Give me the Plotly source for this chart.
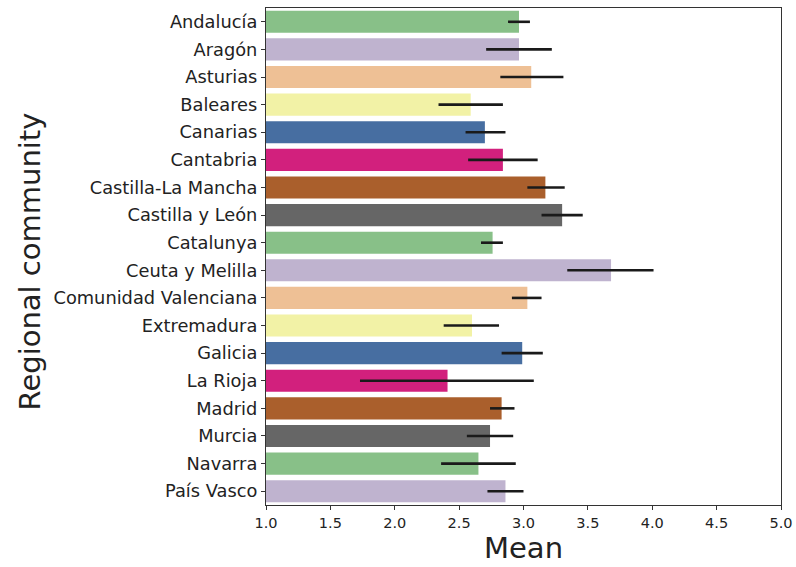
import plotly.graph_objects as go

communities = ["Andalucía", "Aragón", "Asturias", "Baleares", "Canarias", "Cantabria",
               "Castilla-La Mancha", "Castilla y León", "Catalunya", "Ceuta y Melilla",
               "Comunidad Valenciana", "Extremadura", "Galicia", "La Rioja", "Madrid",
               "Murcia", "Navarra", "País Vasco"]
means = [2.965, 2.965, 3.06, 2.59, 2.70, 2.84, 3.17, 3.30, 2.76, 3.68,
         3.03, 2.60, 2.99, 2.41, 2.83, 2.74, 2.65, 2.86]
ci_low = [2.88, 2.71, 2.82, 2.34, 2.55, 2.57, 3.03, 3.14, 2.67, 3.34,
          2.91, 2.38, 2.83, 1.73, 2.74, 2.56, 2.36, 2.72]
ci_high = [3.05, 3.22, 3.31, 2.84, 2.86, 3.11, 3.32, 3.46, 2.84, 4.01,
           3.14, 2.81, 3.15, 3.08, 2.93, 2.92, 2.94, 3.00]
palette = ["#88c088", "#bfb3cf", "#eec095", "#f2f2a6", "#476ea1", "#d2207d", "#aa5f2c", "#666666"]
x_ticks = [1.0, 1.5, 2.0, 2.5, 3.0, 3.5, 4.0, 4.5, 5.0]
x_title = "Mean"
y_title = "Regional community"

colors = [palette[i % len(palette)] for i in range(len(communities))]
plus = [h - m for h, m in zip(ci_high, means)]
minus = [m - l for m, l in zip(means, ci_low)]

fig = go.Figure(go.Bar(
    x=means, y=communities, orientation="h",
    marker=dict(color=colors, line=dict(width=0)),
    width=0.8,
    error_x=dict(type="data", symmetric=False, array=plus, arrayminus=minus,
                 color="#1a1a1a", thickness=2.6, width=0),
))

fig.update_layout(
    width=796, height=567,
    margin=dict(l=266, r=15, t=8, b=62, autoexpand=False),
    plot_bgcolor="white", paper_bgcolor="white",
    font=dict(family="DejaVu Sans", color="#222"),
    showlegend=False,
    xaxis=dict(range=[1, 5], tickvals=x_ticks, ticktext=[f"{v:.1f}" for v in x_ticks],
               tickfont=dict(size=14.5, color="#222"), ticks="outside", ticklen=4, tickcolor="#333",
               showline=True, linecolor="#333", linewidth=1.2, mirror=True,
               showgrid=False, zeroline=False, automargin=False),
    yaxis=dict(autorange=False, range=[17.5, -0.5], tickfont=dict(size=17.8, color="#222"),
               ticks="outside", ticklen=4, automargin=False,
               tickcolor="#333", showline=True, linecolor="#333", linewidth=1.2, mirror=True,
               showgrid=False),
    annotations=[
        dict(text=x_title, xref="paper", yref="paper", x=0.5, y=0, xanchor="center",
             yanchor="middle", yshift=-43, showarrow=False,
             font=dict(size=29, color="#222")),
        dict(text=y_title, xref="paper", yref="paper", x=0, y=0.49, xanchor="center",
             yanchor="middle", xshift=-236, textangle=-90, showarrow=False,
             font=dict(size=29, color="#222")),
    ],
)

fig.write_html("out.html", config={"displayModeBar": False},
               post_script="document.body.style.margin='0';document.body.style.overflow='hidden';")
